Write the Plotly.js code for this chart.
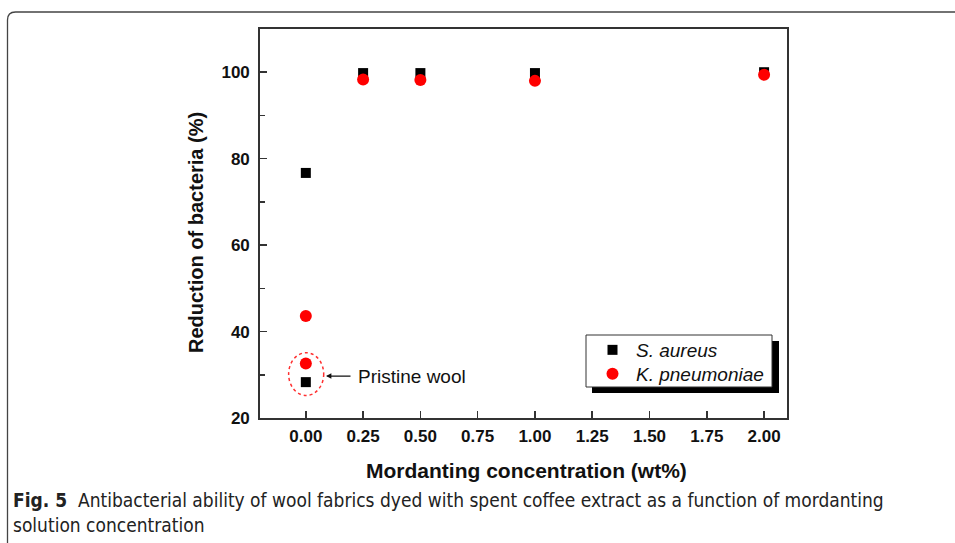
<!DOCTYPE html>
<html>
<head>
<meta charset="utf-8">
<script src="https://cdn.plot.ly/plotly-3.0.1.min.js"></script>
<style>
html,body{margin:0;padding:0;background:#fff;}
#chart{width:955px;height:543px;}
</style>
</head>
<body>
<div id="chart"></div>
<script>
// Data
const saureusX = [0, 0, 0.25, 0.5, 1.0, 2.0];
const saureusY = [76.7, 28.3, 99.8, 99.8, 99.8, 100.0];
const kpneuX = [0, 0, 0.25, 0.5, 1.0, 2.0];
const kpneuY = [43.6, 32.6, 98.3, 98.2, 98.0, 99.4];
const xTickVals = [0, 0.25, 0.5, 0.75, 1.0, 1.25, 1.5, 1.75, 2.0];
const xTickText = ["0.00","0.25","0.50","0.75","1.00","1.25","1.50","1.75","2.00"];
const yTickVals = [20, 40, 60, 80, 100];

const W = 955, H = 543;
const L = 260, R = 787, T = 29, B = 418;
const px = v => (v - L) / (R - L);          // pixel x -> paper x
const py = v => (B - v) / (B - T);          // pixel y -> paper y

const FONT = 'Liberation Sans, Arial, sans-serif';
const tickFont = {family: FONT, size: 17, color: '#111', weight: 'bold'};
const legFont = {family: FONT, size: 19, color: '#111'};

const traces = [
  {x: saureusX, y: saureusY, type: 'scatter', mode: 'markers', name: '<i>S. aureus</i>', legend: 'legend',
   marker: {symbol: 'square', size: 10, color: '#000000'}},
  {x: kpneuX, y: kpneuY, type: 'scatter', mode: 'markers', name: '<i>K. pneumoniae</i>', legend: 'legend2',
   marker: {symbol: 'circle', size: 12, color: '#ff0000'}}
];

const layout = {
  width: W, height: H,
  margin: {l: L, r: W - R, t: T, b: H - B, pad: 0},
  paper_bgcolor: '#ffffff', plot_bgcolor: '#ffffff',
  showlegend: true,
  legend: {
    x: px(589), y: py(350), xanchor: 'left', yanchor: 'middle',
    bgcolor: 'rgba(0,0,0,0)', borderwidth: 0, font: legFont, itemwidth: 37
  },
  legend2: {
    x: px(589), y: py(374), xanchor: 'left', yanchor: 'middle',
    bgcolor: 'rgba(0,0,0,0)', borderwidth: 0, font: legFont, itemwidth: 37
  },
  xaxis: {
    range: [-0.2, 2.1], tickvals: xTickVals, ticktext: xTickText,
    ticks: 'inside', ticklen: 7, tickwidth: 1.5, tickcolor: '#333',
    showline: true, linecolor: '#333', linewidth: 1.8, mirror: true,
    showgrid: false, zeroline: false,
    tickfont: tickFont, ticklabelstandoff: 2
  },
  yaxis: {
    range: [20, 110], tickvals: yTickVals,
    ticks: 'inside', ticklen: 7, tickwidth: 1.5, tickcolor: '#333',
    minor: {tickvals: [30, 50, 70, 90], ticks: 'inside', ticklen: 4.5, tickwidth: 1.5, tickcolor: '#333'},
    showline: true, linecolor: '#333', linewidth: 1.8, mirror: true,
    showgrid: false, zeroline: false,
    tickfont: tickFont, ticklabelstandoff: 5
  },
  shapes: [
    // frame (top and left edges with rounded corner)
    {type: 'path', xref: 'paper', yref: 'paper', layer: 'below',
     path: `M ${px(7.5)},${py(543)} L ${px(7.5)},${py(20)} Q ${px(7.5)},${py(12)} ${px(15.5)},${py(12)} L ${px(956)},${py(12)}`,
     line: {color: '#444', width: 1.3}},
    // legend shadow
    {type: 'rect', xref: 'paper', yref: 'paper', layer: 'above',
     x0: px(592), x1: px(779), y0: py(341), y1: py(393),
     fillcolor: '#000', line: {width: 0}},
    // legend box
    {type: 'rect', xref: 'paper', yref: 'paper', layer: 'above',
     x0: px(586), x1: px(772), y0: py(335), y1: py(387),
     fillcolor: '#fff', line: {color: '#333', width: 1}},
    // dotted ellipse around pristine wool
    {type: 'circle', xref: 'x', yref: 'y', layer: 'above',
     x0: -0.075, x1: 0.078, y0: 25.2, y1: 35.1,
     line: {color: '#ff3030', width: 1.5, dash: 'dot'}}
  ],
  annotations: [
    {x: 0.088, y: 29.7, xref: 'x', yref: 'y', ax: 0.2015, ay: 29.7, axref: 'x', ayref: 'y',
     showarrow: true, arrowhead: 2, arrowsize: 0.9, arrowwidth: 1.2, arrowcolor: '#111', text: ''},
    {x: px(356), y: py(376), xref: 'paper', yref: 'paper', xanchor: 'left', yanchor: 'middle',
     showarrow: false, text: 'Pristine wool',
     font: {family: FONT, size: 19, color: '#111'}},
    // axis titles
    {x: px(526.5), y: py(470), xref: 'paper', yref: 'paper', xanchor: 'center', yanchor: 'middle',
     showarrow: false, text: '<b>Mordanting concentration (wt%)</b>',
     font: {family: FONT, size: 21, color: '#111'}},
    {x: px(196), y: py(233), xref: 'paper', yref: 'paper', xanchor: 'center', yanchor: 'middle',
     showarrow: false, textangle: -90, text: '<b>Reduction of bacteria (%)</b>',
     font: {family: FONT, size: 20, color: '#111'}},
    // caption
    {x: px(11), y: py(487), xref: 'paper', yref: 'paper', xanchor: 'left', yanchor: 'top', align: 'left',
     showarrow: false,
     text: '<b>Fig. 5</b>  Antibacterial ability of wool fabrics dyed with spent coffee extract as a function of mordanting<br>solution concentration',
     font: {family: 'DejaVu Sans Condensed, sans-serif', size: 19, color: '#222'}}
  ]
};

Plotly.newPlot('chart', traces, layout, {displayModeBar: false, staticPlot: true});
</script>
</body>
</html>
